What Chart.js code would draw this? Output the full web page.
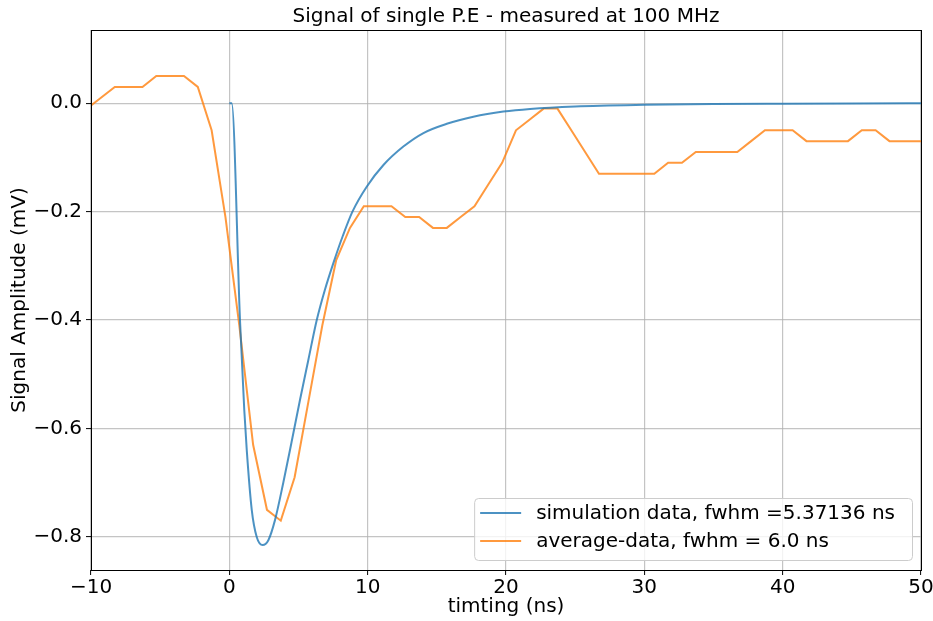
<!DOCTYPE html>
<html><head><meta charset="utf-8">
<script src="https://cdn.jsdelivr.net/npm/chart.js@4"></script>
<style>html,body{margin:0;padding:0;background:#fff}#wrap{width:933px;height:621px}</style>
</head><body><div id="wrap"><canvas id="c" width="933" height="621"></canvas></div>
<script>
// ---- data ----
const simT = [0, 0.17, 0.77, 1.08, 1.26, 1.62, 1.98, 2.41, 2.82, 3.30, 3.90, 4.50, 5.11, 5.70, 6.32, 6.90, 7.52, 8.20, 8.90, 9.93, 11.14, 12.58, 14.03, 15.72, 17.64, 19.81, 21.74, 25, 30, 35, 40, 45, 50];
const simV = [0, 0, -0.40, -0.566, -0.64, -0.75, -0.80, -0.815, -0.806, -0.769, -0.70, -0.625, -0.547, -0.475, -0.40, -0.345, -0.295, -0.245, -0.20, -0.154, -0.114, -0.080, -0.055, -0.038, -0.025, -0.0155, -0.0105, -0.006, -0.003, -0.0015, -0.0008, -0.0004, -0.0002];
const avgT = [-10.28, -9.28, -8.28, -7.28, -6.28, -5.28, -4.28, -3.28, -2.28, -1.28, -0.28, 0.72, 1.72, 2.72, 3.72, 4.72, 5.72, 6.72, 7.72, 8.72, 9.72, 10.72, 11.72, 12.72, 13.72, 14.72, 15.72, 16.72, 17.72, 18.72, 19.72, 20.72, 21.72, 22.72, 23.72, 24.72, 25.72, 26.72, 27.72, 28.72, 29.72, 30.72, 31.72, 32.72, 33.72, 34.72, 35.72, 36.72, 37.72, 38.72, 39.72, 40.72, 41.72, 42.72, 43.72, 44.72, 45.72, 46.72, 47.72, 48.72, 49.72, 50.72];
const avgV = [-0.01, 0.01, 0.03, 0.03, 0.03, 0.05, 0.05, 0.05, 0.03, -0.05, -0.21, -0.41, -0.63, -0.75, -0.77, -0.69, -0.55, -0.41, -0.29, -0.23, -0.19, -0.19, -0.19, -0.21, -0.21, -0.23, -0.23, -0.21, -0.19, -0.15, -0.11, -0.05, -0.03, -0.01, -0.01, -0.05, -0.09, -0.13, -0.13, -0.13, -0.13, -0.13, -0.11, -0.11, -0.09, -0.09, -0.09, -0.09, -0.07, -0.05, -0.05, -0.05, -0.07, -0.07, -0.07, -0.07, -0.05, -0.05, -0.07, -0.07, -0.07, -0.07];
const xTicks = [-10, 0, 10, 20, 30, 40, 50];
const yTicks = [-0.8, -0.6, -0.4, -0.2, 0.0];
const seriesLabels = ['simulation data, fwhm =5.37136 ns', 'average-data, fwhm = 6.0 ns'];
const titleText = 'Signal of single P.E - measured at 100 MHz';
const xTitle = 'timting (ns)';
const yTitle = 'Signal Amplitude (mV)';
const xRange = [-10, 50];
const yRange = [-0.861, 0.135];

const FONT = '"DejaVu Sans", sans-serif';
const FS = 20;
const BLUE = 'rgba(31,119,180,0.8)';
const ORANGE = 'rgba(255,127,14,0.8)';
const minus = v => (v < 0 ? '\u2212' : '') + Math.abs(v);

const overlay = {
  id: 'overlay',
  afterDraw(chart) {
    const ctx = chart.ctx, a = chart.chartArea;
    ctx.save();
    // frame
    ctx.strokeStyle = '#000';
    ctx.lineWidth = 1;
    ctx.strokeRect(Math.round(a.left) + 0.5, Math.round(a.top) + 0.5, Math.round(a.right - a.left), Math.round(a.bottom - a.top));
    // title
    ctx.fillStyle = '#000';
    ctx.font = FS + 'px ' + FONT;
    ctx.textAlign = 'center';
    ctx.textBaseline = 'middle';
    ctx.fillText(titleText, (a.left + a.right) / 2, 17);
    // legend
    const tw = Math.max(...seriesLabels.map(s => ctx.measureText(s).width));
    const w = 62 + tw + 17, h = 62;
    const x0 = a.right - 9 - w, y0 = a.bottom - 10 - h;
    ctx.beginPath();
    ctx.roundRect(x0 + 0.5, y0 + 0.5, w, h, 4);
    ctx.fillStyle = 'rgba(255,255,255,0.8)';
    ctx.fill();
    ctx.strokeStyle = '#cccccc';
    ctx.lineWidth = 1;
    ctx.stroke();
    const cols = [BLUE, ORANGE];
    seriesLabels.forEach((s, i) => {
      const yy = y0 + 15 + i * 28;
      ctx.strokeStyle = cols[i];
      ctx.lineWidth = 2;
      ctx.beginPath();
      ctx.moveTo(x0 + 6, yy); ctx.lineTo(x0 + 47, yy);
      ctx.stroke();
      ctx.fillStyle = '#000';
      ctx.textAlign = 'left';
      ctx.textBaseline = 'middle';
      ctx.fillText(s, x0 + 62, yy + 1);
    });
    ctx.restore();
  }
};

new Chart(document.getElementById('c'), {
  type: 'line',
  data: {
    datasets: [
      { label: seriesLabels[0], data: simT.map((t, i) => ({ x: t, y: simV[i] })), borderColor: BLUE, borderWidth: 2, pointRadius: 0, cubicInterpolationMode: 'monotone', fill: false },
      { label: seriesLabels[1], data: avgT.map((t, i) => ({ x: t, y: avgV[i] })), borderColor: ORANGE, borderWidth: 2, pointRadius: 0, tension: 0, fill: false }
    ]
  },
  options: {
    responsive: false,
    animation: false,
    devicePixelRatio: 1,
    layout: { padding: { left: 0, right: 12, top: 30, bottom: 0 } },
    plugins: { legend: { display: false }, title: { display: false }, tooltip: { enabled: false } },
    scales: {
      x: {
        type: 'linear', min: xRange[0], max: xRange[1],
        afterBuildTicks: s => { s.ticks = xTicks.map(v => ({ value: v })); },
        afterFit: s => { s.height = 51; s.paddingLeft = 0; s.paddingRight = 0; },
        ticks: { color: '#000', font: { family: FONT, size: FS }, padding: 1, maxRotation: 0, callback: v => minus(v) },
        grid: { color: 'rgba(176,176,176,0.75)', lineWidth: 1.2, tickColor: '#000', tickLength: 5, tickWidth: 1 },
        border: { display: false },
        title: { display: true, text: xTitle, color: '#000', font: { family: FONT, size: FS }, padding: { top: 0, bottom: 2 } }
      },
      y: {
        type: 'linear', min: yRange[0], max: yRange[1],
        afterBuildTicks: s => { s.ticks = yTicks.map(v => ({ value: v })); },
        afterFit: s => { s.width = 91; s.paddingTop = 0; s.paddingBottom = 0; },
        ticks: { color: '#000', font: { family: FONT, size: FS }, padding: 4, callback: v => (v < 0 ? '\u2212' : '') + Math.abs(v).toFixed(1) },
        grid: { color: 'rgba(176,176,176,0.75)', lineWidth: 1.2, tickColor: '#000', tickLength: 5, tickWidth: 1 },
        border: { display: false },
        title: { display: true, text: yTitle, color: '#000', font: { family: FONT, size: FS }, padding: { top: 8, bottom: 0 } }
      }
    }
  },
  plugins: [overlay]
});
</script>
</body></html>
